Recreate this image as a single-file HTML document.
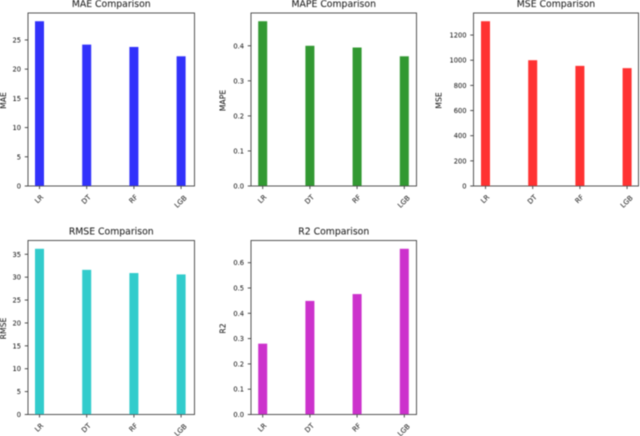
<!DOCTYPE html>
<html>
<head>
<meta charset="utf-8">
<style>
html,body{margin:0;padding:0;background:#fff;}
svg{display:block;}
text{font-family:"DejaVu Sans","Liberation Sans",sans-serif;fill:#111;}
</style>
</head>
<body>
<svg id="figure" xmlns="http://www.w3.org/2000/svg" width="640" height="436" viewBox="0 0 640 436">
<defs><filter id="soft" x="-5%" y="-5%" width="110%" height="110%"><feGaussianBlur stdDeviation="0.4"/></filter></defs>
<g id="root" filter="url(#soft)"></g>
</svg>
<script>
const categories = ["LR", "DT", "RF", "LGB"];
const maeValues = [28.2, 24.2, 23.8, 22.2];
const mapeValues = [0.47, 0.40, 0.395, 0.37];
const mseValues = [1310, 1000, 955, 937];
const rmseValues = [36.2, 31.6, 30.9, 30.6];
const r2Values = [0.28, 0.449, 0.476, 0.655];
const maeTicks = [0, 5, 10, 15, 20, 25];
const mapeTicks = ["0.0", "0.1", "0.2", "0.3", "0.4"];
const mseTicks = [0, 200, 400, 600, 800, 1000, 1200];
const rmseTicks = [0, 5, 10, 15, 20, 25, 30, 35];
const r2Ticks = ["0.0", "0.1", "0.2", "0.3", "0.4", "0.5", "0.6"];

const NS = "http://www.w3.org/2000/svg";
const root = document.getElementById("root");

function make(tag, attrs, parent) {
  const el = document.createElementNS(NS, tag);
  for (const k in attrs) el.setAttribute(k, attrs[k]);
  parent.appendChild(el);
  return el;
}

function drawPanel(metric, values, ticks, color, box) {
  const group = make("g", {}, root);
  
  

  const yMax = Math.max(...values) * 1.05;
  const yScale = v => box.bottom - (v / yMax) * (box.bottom - box.top);
  const xScale = i => box.first + i * 47.2;
  const barWidth = 9;

  categories.forEach((cat, i) => {
    const bar = make("rect", {
      x: xScale(i) - barWidth / 2,
      y: yScale(values[i]),
      width: barWidth,
      height: box.bottom - yScale(values[i]),
      fill: color
    }, group);
    
    

    const tick = make("line", {
      x1: xScale(i), x2: xScale(i), y1: box.bottom, y2: box.bottom + 3,
      stroke: "#222", "stroke-width": 0.8
    }, group);
    
    

    const label = make("text", {"font-size": 7, "text-anchor": "middle"}, group);
    label.textContent = cat;
    const textWidth = label.getComputedTextLength();
    const cx = xScale(i) - 0.6;
    const cy = box.bottom + 12.8 + (textWidth - 8.7) * 0.5;
    label.setAttribute("x", cx);
    label.setAttribute("y", cy + 2.5);
    label.setAttribute("transform", "rotate(-45 " + cx + " " + cy + ")");
    
    
  });

  ticks.forEach(t => {
    const y = yScale(Number(t));
    const tick = make("line", {
      x1: box.left - 3.2, x2: box.left, y1: y, y2: y,
      stroke: "#222", "stroke-width": 0.8
    }, group);
    
    

    const label = make("text", {
      x: box.left - 7, y: y + 2.5, "font-size": 6.7, "text-anchor": "end"
    }, group);
    label.textContent = t;
    
    
  });

  const frame = make("rect", {
    x: box.left, y: box.top, width: box.right - box.left, height: box.bottom - box.top,
    fill: "none", stroke: "#444", "stroke-width": 0.9
  }, group);
  
  

  const title = make("text", {
    x: (box.left + box.right) / 2, y: box.top - 6, "font-size": 9.3, "text-anchor": "middle"
  }, group);
  title.textContent = metric + " Comparison";
  
  

  const yMid = (box.top + box.bottom) / 2 + 1;
  const yTitle = make("text", {
    x: box.titleX, y: yMid, "font-size": 7.7, "text-anchor": "middle",
    transform: "rotate(-90 " + box.titleX + " " + yMid + ")"
  }, group);
  yTitle.textContent = metric;
  
  
}

drawPanel("MAE", maeValues, maeTicks, "#3232fb", {left: 28, right: 194.5, top: 13, bottom: 186, first: 39.5, titleX: 6});
drawPanel("MAPE", mapeValues, mapeTicks, "#339933", {left: 251, right: 416.5, top: 13, bottom: 186, first: 262.7, titleX: 225.5});
drawPanel("MSE", mseValues, mseTicks, "#ff3333", {left: 473.5, right: 638.5, top: 13, bottom: 186, first: 485.5, titleX: 441.5});
drawPanel("RMSE", rmseValues, rmseTicks, "#33cccc", {left: 28, right: 194.5, top: 240.5, bottom: 414.5, first: 39.5, titleX: 6});
drawPanel("R2", r2Values, r2Ticks, "#cc33cc", {left: 251, right: 416.5, top: 240.5, bottom: 414.5, first: 262.7, titleX: 225.5});
</script>
</body>
</html>
